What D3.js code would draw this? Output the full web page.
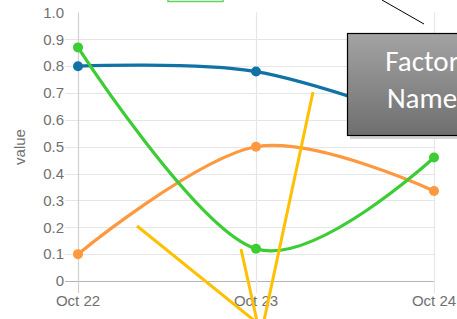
<!DOCTYPE html>
<html>
<head>
<meta charset="utf-8">
<script src="https://cdn.jsdelivr.net/npm/d3@7"></script>
<style>
  body { margin: 0; background: #fff; }
  svg { display: block; font-family: Arial, "Liberation Sans", sans-serif; }
</style>
</head>
<body>
<div id="chart"></div>
<script>
"use strict";

const dates = ["Oct 22", "Oct 23", "Oct 24"];
const blueVals = [0.80, 0.78, 0.58];
const greenVals = [0.87, 0.12, 0.46];
const orangeVals = [0.10, 0.50, 0.335];
const yTicks = [0, 0.1, 0.2, 0.3, 0.4, 0.5, 0.6, 0.7, 0.8, 0.9, 1.0];
const yAxisTitle = "value";
const boxLines = ["Factor", "Name"];

const series = [
  { name: "blue", values: blueVals, color: "#1172a6" },
  { name: "orange", values: orangeVals, color: "#ff983e" },
  { name: "green", values: greenVals, color: "#3ccc34" },
];

const W = 457;
const H = 319;

const svg = d3
  .select("#chart")
  .append("svg")
  .attr("width", W)
  .attr("height", H);

const x = d3.scalePoint().domain(dates).range([78, 434]);
const y = d3.scaleLinear().domain([0, 1]).range([281, 12.5]);

// grid (no line at the top value)
svg
  .selectAll(".hgrid")
  .data(yTicks.filter((d) => d < 1))
  .enter()
  .append("line")
  .attr("x1", 65)
  .attr("x2", x(dates[2]))
  .attr("y1", (d) => Math.round(y(d)) + 0.5)
  .attr("y2", (d) => Math.round(y(d)) + 0.5)
  .attr("stroke", (d) => (d === 0 ? "#b5b5b5" : "#e6e6e6"))
  .attr("stroke-width", 1.2);

svg
  .selectAll(".vgrid")
  .data(dates)
  .enter()
  .append("line")
  .attr("x1", (d) => x(d) + 0.5)
  .attr("x2", (d) => x(d) + 0.5)
  .attr("y1", y(1))
  .attr("y2", 293)
  .attr("stroke", (d, i) => (i === 0 ? "#cfcfcf" : "#e6e6e6"))
  .attr("stroke-width", 1.2);

// y tick labels
svg
  .selectAll(".ylab")
  .data(yTicks)
  .enter()
  .append("text")
  .attr("x", 64)
  .attr("y", (d) => y(d))
  .attr("dy", "0.35em")
  .attr("text-anchor", "end")
  .attr("font-size", "15px")
  .attr("fill", "#707070")
  .text((d) => (d === 0 ? "0" : d.toFixed(1)));

// x tick labels
svg
  .selectAll(".xlab")
  .data(dates)
  .enter()
  .append("text")
  .attr("x", (d) => x(d))
  .attr("y", 306)
  .attr("text-anchor", "middle")
  .attr("font-size", "15px")
  .attr("fill", "#707070")
  .text((d) => d);

svg
  .append("text")
  .attr("transform", "translate(25,147) rotate(-90)")
  .attr("text-anchor", "middle")
  .attr("font-size", "15px")
  .attr("fill", "#707070")
  .text(yAxisTitle);

// series
const line = d3
  .line()
  .x((d, i) => x(dates[i]))
  .y((d) => y(d))
  .curve(d3.curveCardinal);

series.forEach((s) => {
  svg
    .append("path")
    .attr("d", line(s.values))
    .attr("fill", "none")
    .attr("stroke", s.color)
    .attr("stroke-width", 3.2);
  svg
    .selectAll(".pt-" + s.name)
    .data(s.values)
    .enter()
    .append("circle")
    .attr("cx", (d, i) => x(dates[i]))
    .attr("cy", (d) => y(d))
    .attr("r", 5)
    .attr("fill", s.color);
});

// overlay annotations
svg
  .append("rect")
  .attr("x", 168)
  .attr("y", -10)
  .attr("width", 55)
  .attr("height", 11.5)
  .attr("fill", "#fff")
  .attr("stroke", "#5fd35a")
  .attr("stroke-width", 1.5);

svg
  .append("line")
  .attr("x1", 382)
  .attr("y1", 0)
  .attr("x2", 424)
  .attr("y2", 24)
  .attr("stroke", "#000")
  .attr("stroke-width", 1);

const grad = svg
  .append("defs")
  .append("linearGradient")
  .attr("id", "boxGrad")
  .attr("x1", 0)
  .attr("y1", 0)
  .attr("x2", 0)
  .attr("y2", 1);
grad.append("stop").attr("offset", "0%").attr("stop-color", "#a3a3a3");
grad.append("stop").attr("offset", "100%").attr("stop-color", "#6f6f6f");

// soft shadow
svg
  .append("rect")
  .attr("x", 350)
  .attr("y", 36)
  .attr("width", 150)
  .attr("height", 103)
  .attr("fill", "#d4d4d4");

svg
  .append("rect")
  .attr("x", 347.5)
  .attr("y", 33.5)
  .attr("width", 150)
  .attr("height", 102)
  .attr("fill", "url(#boxGrad)")
  .attr("stroke", "#000")
  .attr("stroke-width", 1.2);

svg
  .selectAll(".boxtxt")
  .data(boxLines)
  .enter()
  .append("text")
  .attr("x", 422)
  .attr("y", (d, i) => 71 + i * 37)
  .attr("text-anchor", "middle")
  .attr("font-family", "Carlito, 'Open Sans', sans-serif")
  .attr("font-size", "29px")
  .attr("fill", "#fff")
  .text((d) => d);

const yellow = [
  [137, 226, 266, 330],
  [241, 249, 259, 330],
  [313, 92, 262, 330],
];
svg
  .selectAll(".yl")
  .data(yellow)
  .enter()
  .append("line")
  .attr("x1", (d) => d[0])
  .attr("y1", (d) => d[1])
  .attr("x2", (d) => d[2])
  .attr("y2", (d) => d[3])
  .attr("stroke", "#ffc000")
  .attr("stroke-width", 3);
</script>
</body>
</html>
